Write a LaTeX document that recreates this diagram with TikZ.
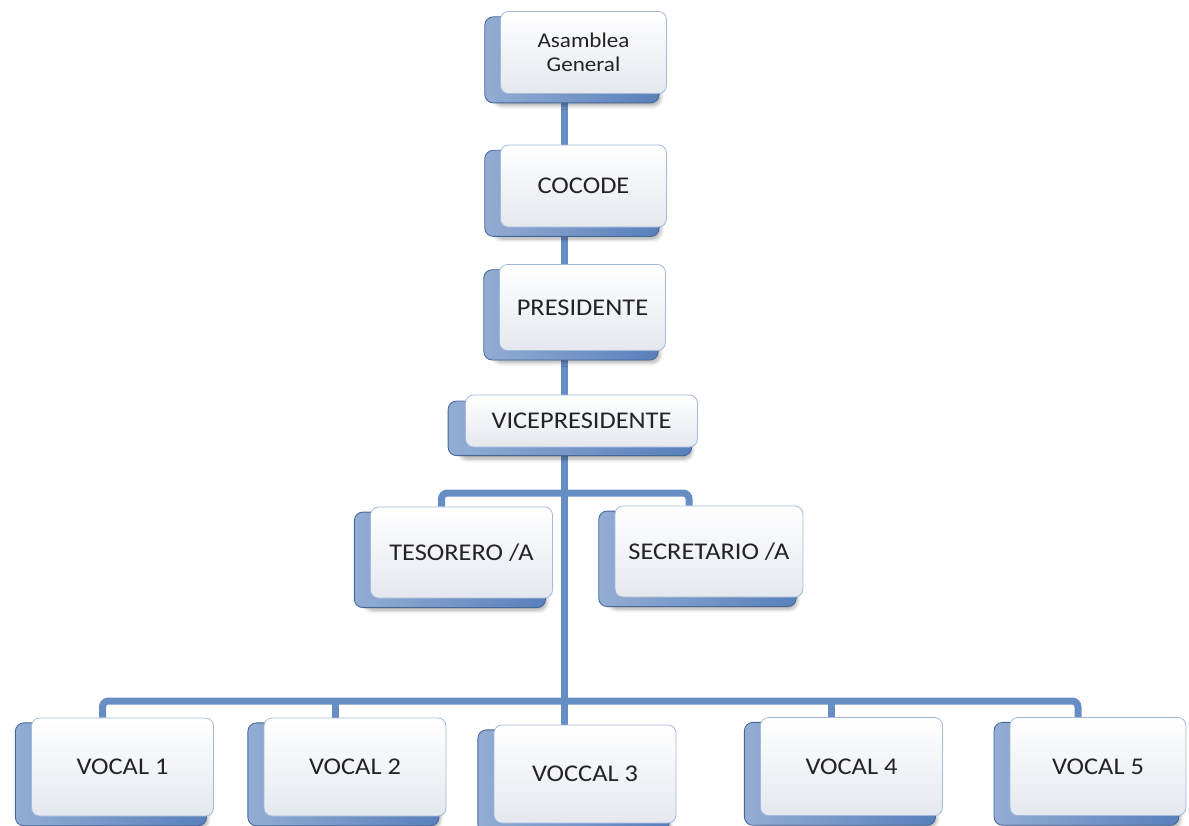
\documentclass[tikz,border=0pt]{standalone}
\usepackage{fontspec}
\setmainfont{Carlito}[FakeStretch=1.1]
\usetikzlibrary{shadows, shadows.blur, backgrounds}
\definecolor{linkblue}{RGB}{102,141,196}
\definecolor{backblue}{RGB}{88,128,187}
\definecolor{frontgray}{RGB}{228,232,238}
\definecolor{textgray}{RGB}{35,35,35}
\tikzset{
	orgbox/.style = {rectangle, rounded corners=4pt, draw=backblue!55, thin, top color=white, bottom color=frontgray, text=textgray, align=center, inner sep=2pt, font=\fontsize{12}{14}\selectfont,
		blur shadow={shadow xshift=-3pt, shadow yshift=-6pt, shadow opacity=35, shadow blur steps=6},
		general shadow={left color=backblue!65!white, right color=backblue, draw=backblue!80!black, shadow scale=1.05, shadow xshift=-5.5pt, shadow yshift=-3.5pt}},
	level0/.style = {orgbox, minimum width=83pt, minimum height=41pt},
	level1/.style = {orgbox, minimum width=116pt, minimum height=26pt},
	level2/.style = {orgbox, minimum width=91pt, minimum height=45.5pt},
	level3/.style = {orgbox, minimum width=91pt, minimum height=49pt},
	link/.style = {draw=linkblue, line width=3.5pt, rounded corners=3pt}
}

\begin{document}
\begin{tikzpicture}[x=0.5pt, y=-0.5pt]
		
		\useasboundingbox (0,0) rectangle (1189,825);
		
		% Level 0: Asamblea, Cocode, Presidente
		\node (asamblea) [level0, font=\fontsize{10.5}{12}\selectfont] at (583.5,52.5) {Asamblea\\General};
		\node (cocode) [level0] at (583.5,186) {COCODE};
		\node (presidente) [level0, minimum height=43pt] at (582.5,307.5) {PRESIDENTE};
		
		% Level 1: Vicepresidente
		\node (vice) [level1] at (581.5,421) {VICEPRESIDENTE};
		
		% Level 2: Tesorero and Secretario
		\node (tesorero) [level2] at (461.5,552.5) {TESORERO /A};
		\node (secretario) [level2, minimum width=94pt] at (709,551.5) {SECRETARIO /A};
		
		% Level 3: Vocales
		\node (vocal1) [level3] at (122.5,767) {VOCAL 1};
		\node (vocal2) [level3] at (355,767) {VOCAL 2};
		\node (vocal3) [level3] at (585,774) {VOCCAL 3};
		\node (vocal4) [level3] at (851.5,766.5) {VOCAL 4};
		\node (vocal5) [level3, minimum width=88pt] at (1098,766.5) {VOCAL 5};
		
		% Lines
		\coordinate (trunk) at (564,0);
		\coordinate (bar1) at (0,493);
		\coordinate (bar2) at (0,701);
		\foreach \v in {tesorero, secretario, vocal1, vocal2, vocal4, vocal5}
			\coordinate (\v-drop) at ([xshift=-10pt]\v.north);
		
		\begin{scope}[on background layer]
			\draw [link] (asamblea -| trunk) -- (vocal3.north -| trunk);
			\draw [link] (tesorero-drop) |- (secretario-drop |- bar1) -- (secretario-drop);
			\draw [link] (vocal1-drop) |- (vocal5-drop |- bar2) -- (vocal5-drop);
			\draw [link] (vocal2-drop) -- (vocal2-drop |- bar2);
			\draw [link] (vocal4-drop) -- (vocal4-drop |- bar2);
		\end{scope}
		
	\end{tikzpicture}
\end{document}
